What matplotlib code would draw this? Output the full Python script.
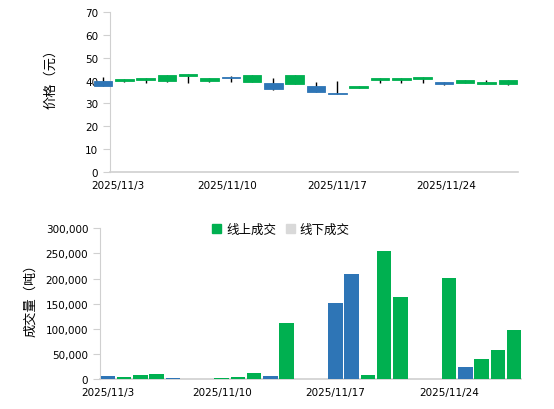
import numpy as np
import pandas as pd
import matplotlib
matplotlib.use('Agg')
import matplotlib.pyplot as plt
from matplotlib.ticker import FuncFormatter
from matplotlib.patches import Patch

plt.rcParams['font.family'] = ['DejaVu Sans', 'Noto Sans CJK SC']

# trading days
days = pd.bdate_range('2025-11-03', '2025-11-28')

# daily price candles (yuan)
price_open = [39.7, 39.8, 40.3, 39.9, 42.1, 39.8, 41.6, 39.5, 39.1, 38.6,
              37.6, 34.4, 36.9, 40.4, 40.3, 40.7, 39.5, 39.1, 38.5, 38.5]
price_close = [37.6, 40.5, 41.1, 42.6, 43.0, 41.1, 41.1, 42.6, 36.4, 42.6,
               35.1, 34.0, 37.6, 41.1, 41.1, 41.6, 38.5, 40.4, 39.5, 40.4]
price_high = [41.6, 40.5, 41.1, 42.6, 43.0, 41.1, 42.1, 42.6, 41.1, 42.6,
              39.5, 39.9, 37.6, 41.1, 41.1, 41.6, 39.5, 40.4, 40.4, 40.4]
price_low = [37.6, 39.4, 39.1, 39.4, 39.1, 39.2, 39.4, 39.5, 36.0, 38.6,
             35.1, 34.0, 36.9, 39.1, 39.1, 39.1, 38.1, 38.8, 38.5, 38.1]

# daily volume (tonnes)
vol_online = [6500, 4600, 8600, 10500, 2600, 2000, 4600, 12500, 6500, 112000,
              151000, 209000, 8600, 254800, 163000, 201000, 23900, 39800, 57700, 97500]
vol_offline = [0] * 20
vol_dir = ['down', 'up', 'up', 'up', 'down', 'up', 'up', 'up', 'down', 'up',
           'down', 'down', 'up', 'up', 'up', 'up', 'down', 'up', 'up', 'up']

tick_dates = ['2025/11/3', '2025/11/10', '2025/11/17', '2025/11/24']

GREEN = '#00B050'
BLUE = '#2E75B6'
GRAY = '#D9D9D9'
AXC = '#D0D0D0'

fig = plt.figure(figsize=(5.54, 4.10), dpi=100)

#
# price candles
#
ax1 = fig.add_axes([110 / 554, 1 - 173 / 410, 408 / 554, 160 / 410])
x = np.arange(len(days))
o = np.array(price_open)
c = np.array(price_close)
colors = [GREEN if cc >= oo else BLUE for oo, cc in zip(o, c)]
ax1.vlines(x, price_low, price_high, color='black', lw=1, zorder=2, clip_on=False)
ax1.bar(x, np.abs(c - o), bottom=np.minimum(o, c), width=0.87, color=colors,
        edgecolor=colors, lw=0.6, zorder=3, clip_on=False)
ax1.set_xlim(0.33, 19.48)
ax1.set_ylim(0, 70)
ax1.set_yticks(range(0, 71, 10))
ax1.set_xticks([0.68, 5.84, 10.97, 16.1])
ax1.set_xticklabels(tick_dates)
ax1.set_ylabel('价格（元）', family=['Noto Sans CJK SC'], fontsize=9.5)
ax1.yaxis.set_label_coords(-0.13, 0.61)

#
# volume bars
#
ax2 = fig.add_axes([100 / 554, 1 - 380 / 410, 421 / 554, 150.7 / 410])
xd = np.array((days - days[0]).days)
bar_colors = [GREEN if d == 'up' else BLUE for d in vol_dir]
ax2.bar(xd, vol_online, width=0.89, color=bar_colors, lw=0, zorder=3)
ax2.bar(xd, vol_offline, bottom=vol_online, width=0.89, color=GRAY, lw=0, zorder=3)
ax2.set_xlim(-0.49, 25.43)
ax2.set_ylim(0, 300000)
ax2.set_yticks(range(0, 300001, 50000))
ax2.yaxis.set_major_formatter(FuncFormatter(lambda v, p: f'{int(v):,}'))
ax2.set_xticks([0, 7, 14, 21])
ax2.set_xticklabels(tick_dates)
ax2.set_ylabel('成交量（吨）', family=['Noto Sans CJK SC'], fontsize=9.5)
ax2.yaxis.set_label_coords(-0.15, 0.55)

handles = [Patch(color=GREEN, label='线上成交'), Patch(color=GRAY, label='线下成交')]
fig.legend(handles=handles, loc='center', bbox_to_anchor=(281 / 554, 1 - 230 / 410),
           ncol=2, frameon=False, prop={'family': 'Noto Sans CJK SC', 'size': 9},
           handlelength=0.7, handleheight=0.7, handletextpad=0.4, columnspacing=0.8)

for ax in (ax1, ax2):
    for s in ('top', 'right'):
        ax.spines[s].set_visible(False)
    ax.spines['left'].set_color(AXC)
    ax.spines['bottom'].set_color(AXC)
    ax.spines['bottom'].set_linewidth(1.2)
    ax.tick_params(axis='y', colors=AXC, labelcolor='black', labelsize=7.5, length=5)
    ax.tick_params(axis='x', length=0, labelsize=7.5, pad=6)

fig.savefig('out.png', dpi=100)
